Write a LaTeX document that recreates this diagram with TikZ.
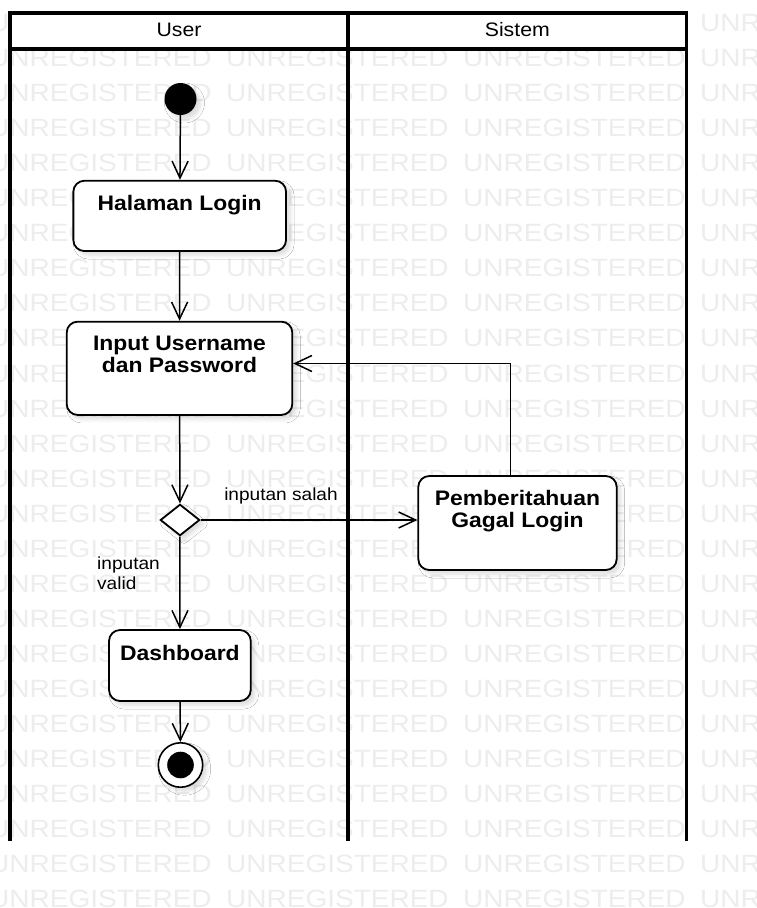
\documentclass[tikz,border=0pt]{standalone}
\usepackage{fontspec}
\setmainfont{Liberation Sans}[FakeStretch=1.09]
\newfontfamily\stampfont{Liberation Sans}[FakeStretch=1.12]
\usetikzlibrary{arrows.meta,shapes.geometric,shadows.blur}

\begin{document}
\begin{tikzpicture}[x=1pt,y=-1pt,
  wm/.style={anchor=base west, inner sep=0pt, text=black!7,
    font=\stampfont\fontsize{25}{25}\selectfont},
  lanerule/.style={line width=3.4pt},
  soft/.style={blur shadow={shadow xshift=4pt, shadow yshift=-4pt,
    shadow blur radius=4pt, shadow opacity=14}},
  act/.style={draw, line width=1.8pt, rounded corners=11pt, fill=white,
    inner sep=0pt, soft},
  acttext/.style={anchor=base, inner sep=0pt, align=center,
    font=\fontsize{21}{22}\selectfont\bfseries},
  lanetext/.style={anchor=base, inner sep=0pt,
    font=\fontsize{19.5}{20}\selectfont},
  guard/.style={inner sep=0pt, font=\fontsize{17.5}{19.5}\selectfont},
  flow/.style={line width=1.5pt, -{Straight Barb[length=17pt,width=16pt]}},
]
\useasboundingbox (0,0) rectangle (756,908);
\fill[white] (0,0) rectangle (756,908);

% background stamp rows
\foreach \r in {0,...,25}{
  \foreach \c in {0,...,3}{
    \node[wm] at ({-11+237*\c},{31.5+35.05*\r}) {UNREGISTERED};
  }
}

% swimlanes
\draw[lanerule] (10,49) -- (10,841);
\draw[lanerule] (348,12.8) -- (348,841);
\draw[lanerule] (686.5,49) -- (686.5,841);
\draw[lanerule, fill=white] (10,12.8) rectangle (686.5,49);
\draw[lanerule] (348,12.8) -- (348,49);
\node[lanetext] (laneuser) at (179,36.7) {User};
\node[lanetext] (lanesistem) at (517.3,36.7) {Sistem};

% activity nodes (multi-line captions are placed by their last baseline)
\node[circle, fill=black, minimum size=32pt, inner sep=0pt, soft] (init) at (180.5,99) {};
\node[act, minimum width=212.7pt, minimum height=70.3pt] (login) at (179.7,215.9) {};
\node[acttext] (logintext) at (179.7,210.7) {Halaman Login};
\node[act, minimum width=225.6pt, minimum height=93.3pt] (input) at (179.5,368.3) {};
\node[acttext] (inputtext) at (179.5,372.3) {Input Username\\dan Password};
\node[diamond, draw, fill=white, line width=1.8pt, inner sep=0pt,
      minimum width=39.4pt, minimum height=31.4pt, soft] (dec) at (180,520) {};
\node[act, minimum width=198.4pt, minimum height=94pt] (gagal) at (517.5,523) {};
\node[acttext] (gagaltext) at (517.5,527.7) {Pemberitahuan\\Gagal Login};
\node[act, minimum width=141.7pt, minimum height=71pt] (dash) at (179.9,665.5) {};
\node[acttext] (dashtext) at (179.9,660) {Dashboard};
\node[circle, draw, fill=white, line width=1.6pt, minimum size=44.4pt,
      inner sep=0pt, soft] (final) at (180.5,765) {};
\fill (final.center) circle[radius=13.3pt];

% control flows
\draw[flow] (init) -- (login);
\draw[flow] (login) -- (input);
\draw[flow] (input) -- (dec);
\draw[flow] (dec.east) -- (dec.east -| gagal.west);
\draw[flow] ([xshift=-7pt]gagal.north) |- ([yshift=4.8pt]input.east);
\draw[flow] (dec) -- (dash);
\draw[flow] (dash) -- (final);

% guards
\node[guard, anchor=base] (salah) at (281,500) {inputan salah};
\node[guard, anchor=base west, align=left] (valid) at (97,589.3) {inputan\\valid};
\end{tikzpicture}
\end{document}
